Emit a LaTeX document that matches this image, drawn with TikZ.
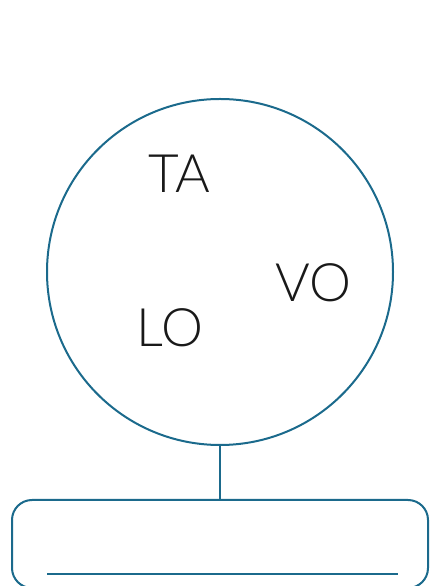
\documentclass[tikz,border=0pt]{standalone}
\usepackage{fontspec}
\setmainfont{Lato Light}
\definecolor{rlblue}{HTML}{1B6A8C}
\usetikzlibrary{positioning}

\begin{document}
\begin{tikzpicture}[
  x=1pt,y=1pt,
  ln/.style={draw=rlblue,line width=2pt},
  syl/.style={font=\fontsize{53}{60}\selectfont,text=black!90,anchor=base,inner sep=0pt},
  ans/.style={ln,rounded corners=20pt,minimum width=416pt,minimum height=88pt,inner sep=0pt}]
\useasboundingbox (0,0) rectangle (430,586);
\node[ln,circle,minimum size=346pt,inner sep=0pt] (ring) at (220,314) {};
\node[syl] (ta) at (179,393) {TA};
\node[syl] (vo) at (313,284) {VO};
\node[syl] (lo) at (170,239) {LO};
\node[ans] (box) at (220,42) {};
\draw[ln] (ring.south) -- (box.north);
\coordinate (wl) at (47,12);
\coordinate (wr) at (398,12);
\draw[ln] (wl) -- (wr);
\end{tikzpicture}
\end{document}
